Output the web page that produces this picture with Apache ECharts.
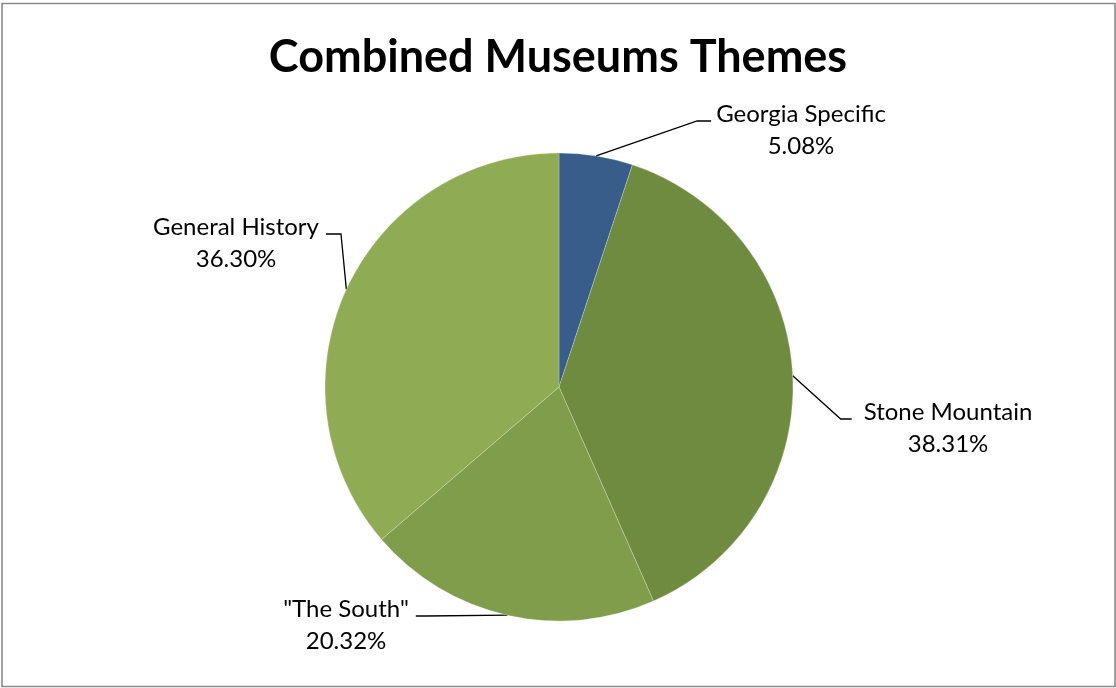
<!DOCTYPE html>
<html>
<head>
<meta charset="utf-8">
<title>Combined Museums Themes</title>
<script src="https://cdn.jsdelivr.net/npm/echarts@6/dist/echarts.min.js"></script>
<style>
  html, body { margin: 0; padding: 0; background: #ffffff; }
  #chart { width: 1116px; height: 688px; }
</style>
</head>
<body>
<div id="chart"></div>
<script>
// Theme shares (percent of all museum items)
const categories = ['Georgia Specific', 'Stone Mountain', '"The South"', 'General History'];
const shares = [5.08, 38.31, 20.32, 36.30];
const sliceColors = ['#385D8A', '#6E8B3F', '#7F9D4B', '#8FAB53'];

// Where each two-line label block sits (its centre), which side the leader
// line joins it from, the gap to the text and the length of the short arm.
const labelPlacement = [
  { cx: 801, cy: 130, side: 'left',  gap: 5,  arm: 14 },
  { cx: 948, cy: 428, side: 'left',  gap: 12, arm: 11 },
  { cx: 346, cy: 625, side: 'right', gap: 7,  arm: 10 },
  { cx: 236, cy: 243, side: 'right', gap: 7,  arm: 15 }
];
const LABEL_FONT = 24;
const LABEL_LINE_HEIGHT = 32;

const chart = echarts.init(document.getElementById('chart'), null, { renderer: 'canvas' });

chart.setOption({
  backgroundColor: '#ffffff',
  animation: false,
  title: {
    text: 'Combined Museums Themes',
    left: 'center',
    top: 30,
    textStyle: {
      fontFamily: 'Lato',
      fontWeight: 'bold',
      fontSize: 45,
      color: '#000000'
    }
  },
  graphic: [{
    type: 'rect',
    silent: true,
    shape: { x: 2, y: 3.5, width: 1113, height: 683 },
    style: { fill: 'none', stroke: '#8a8a8a', lineWidth: 1.6 }
  }],
  series: [{
    type: 'pie',
    center: [559, 387],
    radius: 234,
    startAngle: 90,
    clockwise: true,
    avoidLabelOverlap: false,
    itemStyle: { borderColor: 'rgba(255,255,255,0.3)', borderWidth: 0.8 },
    label: {
      show: true,
      position: 'outside',
      fontFamily: 'Lato',
      fontSize: LABEL_FONT,
      lineHeight: LABEL_LINE_HEIGHT,
      color: '#000000',
      align: 'center',
      formatter: (p) => p.name + '\n' + shares[p.dataIndex].toFixed(2) + '%'
    },
    labelLine: {
      show: true,
      length: 20,
      length2: 10,
      lineStyle: { color: '#000000', width: 1.3 }
    },
    labelLayout: (params) => {
      const place = labelPlacement[params.dataIndex];
      const w = params.labelRect.width;
      const h = params.labelRect.height;
      const left = place.cx - w / 2;
      const top = place.cy - h / 2;
      const joinY = top + 23;
      const start = params.labelLinePoints[0];
      let end, elbow;
      if (place.side === 'left') {
        end = [left - place.gap, joinY];
        elbow = [end[0] - place.arm, joinY];
      } else {
        end = [left + w + place.gap, joinY];
        elbow = [end[0] + place.arm, joinY];
      }
      return {
        x: place.cx,
        y: place.cy,
        align: 'center',
        verticalAlign: 'middle',
        labelLinePoints: [start, elbow, end]
      };
    },
    data: categories.map((name, i) => ({
      name: name,
      value: shares[i],
      itemStyle: { color: sliceColors[i] }
    }))
  }]
});
</script>
</body>
</html>
